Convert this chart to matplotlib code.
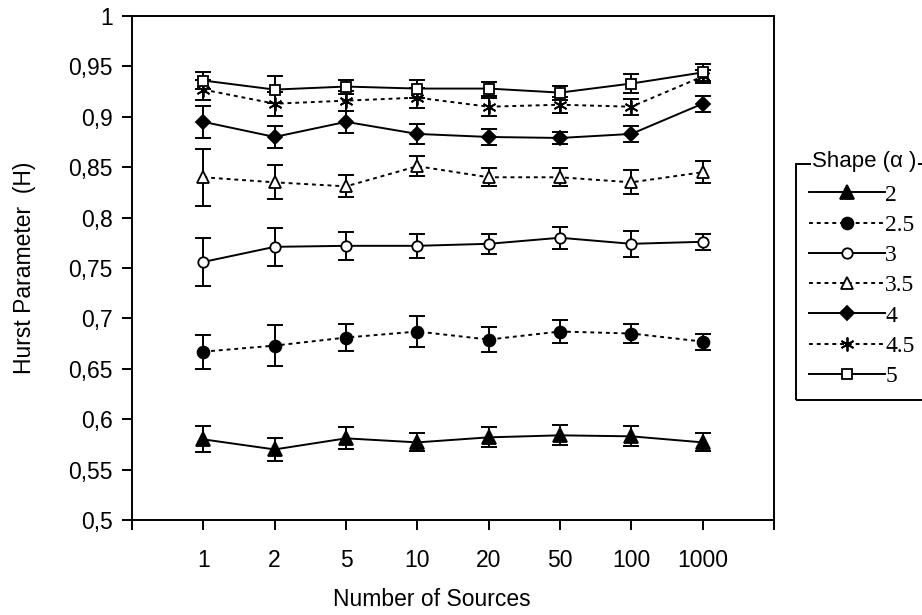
import numpy as np
import matplotlib
matplotlib.use('Agg')
import matplotlib.pyplot as plt
from matplotlib.patches import Rectangle
from matplotlib.ticker import FuncFormatter

# Data
sources = ['1', '2', '5', '10', '20', '50', '100', '1000']
shapes = ['2', '2.5', '3', '3.5', '4', '4.5', '5']

h_2 = [0.580, 0.570, 0.581, 0.577, 0.582, 0.584, 0.583, 0.577]
e_2 = [0.013, 0.011, 0.011, 0.009, 0.010, 0.010, 0.010, 0.009]
h_25 = [0.667, 0.673, 0.681, 0.687, 0.679, 0.687, 0.685, 0.677]
e_25 = [0.017, 0.020, 0.013, 0.015, 0.012, 0.011, 0.009, 0.008]
h_3 = [0.756, 0.771, 0.772, 0.772, 0.774, 0.780, 0.774, 0.776]
e_3 = [0.024, 0.019, 0.014, 0.012, 0.010, 0.011, 0.013, 0.008]
h_35 = [0.840, 0.835, 0.831, 0.851, 0.840, 0.840, 0.835, 0.845]
e_35 = [0.028, 0.017, 0.011, 0.010, 0.009, 0.009, 0.012, 0.011]
h_4 = [0.895, 0.880, 0.895, 0.883, 0.880, 0.879, 0.883, 0.913]
e_4 = [0.016, 0.011, 0.011, 0.010, 0.008, 0.006, 0.008, 0.008]
h_45 = [0.927, 0.913, 0.916, 0.919, 0.910, 0.912, 0.910, 0.940]
e_45 = [0.010, 0.012, 0.010, 0.010, 0.009, 0.008, 0.008, 0.006]
h_5 = [0.936, 0.927, 0.930, 0.928, 0.928, 0.924, 0.933, 0.944]
e_5 = [0.008, 0.013, 0.007, 0.009, 0.007, 0.007, 0.009, 0.008]

series = [h_2, h_25, h_3, h_35, h_4, h_45, h_5]
errors = [e_2, e_25, e_3, e_35, e_4, e_45, e_5]

# style per series: marker, size, face, dashed
styles = [
    ('^', 9.5, 'black', False),
    ('o', 8.5, 'black', True),
    ('o', 7.5, 'white', False),
    ('^', 9, 'white', True),
    ('D', 7.5, 'black', False),
    ((6, 2, 0), 10, 'black', True),
    ('s', 7, 'white', False),
]

W, H = 922, 615
fig = plt.figure(figsize=(W / 100, H / 100), dpi=100)
ax = fig.add_axes([132 / W, 1 - 520 / H, (774 - 132) / W, (520 - 16) / H])

x = np.arange(1, len(sources) + 1)
lw = 1.4
handles = []
for vals, err, (mk, ms, fc, dashed) in zip(series, errors, styles):
    ax.errorbar(x, vals, yerr=err, fmt='none', ecolor='black',
                elinewidth=lw, capsize=5.5, capthick=lw, zorder=2)
    ls = (0, (2.0, 2.0)) if dashed else '-'
    ln, = ax.plot(x, vals, color='black', lw=lw, linestyle=ls,
                  marker=mk, markersize=ms, markerfacecolor=fc,
                  markeredgecolor='black', markeredgewidth=1.3, zorder=3)
    handles.append(ln)

ax.set_xlim(0, 9)
ax.set_ylim(0.5, 1.0)
ax.set_xticks(range(0, 10))
ax.set_xticklabels([''] + sources + [''])
ax.set_yticks(np.linspace(0.5, 1.0, 11))
ax.yaxis.set_major_formatter(FuncFormatter(lambda v, p: f'{v:.2f}'.rstrip('0').rstrip('.').replace('.', ',')))

for s in ax.spines.values():
    s.set_linewidth(1.4)
ax.tick_params(axis='both', direction='out', length=7, width=1.4,
               labelsize=16.5, colors='black')
ax.tick_params(axis='x', pad=14)
ax.tick_params(axis='y', pad=7)
for t in ax.get_xticklabels() + ax.get_yticklabels():
    t.set_family('Liberation Sans')

ax.set_xlabel('Number of Sources', fontsize=16.5, family='Liberation Sans')
ax.xaxis.set_label_coords((432 - 132) / 642, (520 - 600) / 504)
ax.xaxis.label.set_va('center')
ax.set_ylabel('Hurst Parameter  (H)', fontsize=16.5, family='Liberation Sans')
ax.yaxis.set_label_coords((24 - 132) / 642, 0.5)
ax.yaxis.label.set_va('center')

# legend frame and title sitting on the top edge
frame = Rectangle((796 / W, 1 - 400 / H), (930 - 796) / W, (400 - 164) / H,
                  transform=fig.transFigure, fill=False, lw=1.4,
                  edgecolor='black', clip_on=False)
fig.patches.append(frame)
fig.text(812 / W, 1 - 162 / H, 'Shape (\u03b1 )', fontsize=16,
         family='Liberation Sans', ha='left', va='center',
         bbox=dict(facecolor='white', edgecolor='none', pad=1))

fig.legend(handles, shapes, loc='upper left',
           bbox_to_anchor=(809 / W, 1 - 184 / H), frameon=False,
           prop={'family': 'Liberation Serif', 'size': 17},
           handlelength=3.2, handletextpad=0.03, labelspacing=0.37,
           borderpad=0, borderaxespad=0)

fig.savefig('out.png', dpi=100)
